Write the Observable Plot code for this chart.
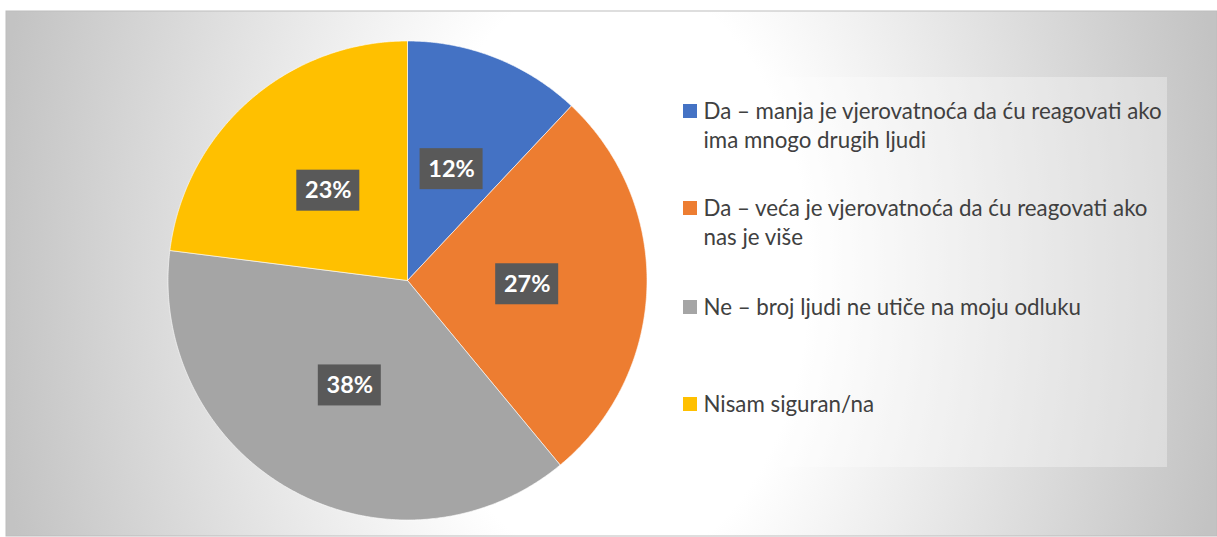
<!DOCTYPE html>
<html>
<head>
<meta charset="utf-8">
<script src="https://cdn.jsdelivr.net/npm/d3@7"></script>
<script src="https://cdn.jsdelivr.net/npm/@observablehq/plot@0.6"></script>
<style>
  html, body { margin: 0; padding: 0; background: #ffffff; }
</style>
</head>
<body>
<div id="chart"></div>
<script>
// ---- data ----
const categories = [
  "Da – manja je vjerovatnoća da ću reagovati ako ima mnogo drugih ljudi",
  "Da – veća je vjerovatnoća da ću reagovati ako nas je više",
  "Ne – broj ljudi ne utiče na moju odluku",
  "Nisam siguran/na"
];
const values = [12, 27, 38, 23];
const percentLabels = ["12%", "27%", "38%", "23%"];
const legendLines = [
  ["Da – manja je vjerovatnoća da ću reagovati ako", "ima mnogo drugih ljudi"],
  ["Da – veća je vjerovatnoća da ću reagovati ako", "nas je više"],
  ["Ne – broj ljudi ne utiče na moju odluku"],
  ["Nisam siguran/na"]
];
const colors = ["#4472C4", "#ED7D31", "#A5A5A5", "#FFC000"];

// ---- layout (pixels) ----
const W = 1217, H = 537;
const bg = {x1: 6, x2: 1217, y1: 11, y2: 536};
const pieC = {x: 407, y: 280, r: 239.5};
const labelR = 0.5;            // label position as fraction of radius
const labelBox = {w: 63, h: 41};
const legendBox = {x1: 675, x2: 1167, y1: 77, y2: 467};
const legendBaselines = [118, 215, 314, 411];
const legendLineGap = 29;
const legendFont = 22.3;
const swatch = {x: 683, size: 14};
const textX = 703;
const font = "Lato, 'Open Sans', sans-serif";

// ---- derived geometry ----
const arcs = d3.pie().sort(null).value(d => d)(values);
const slicePts = [];
arcs.forEach((a, i) => {
  slicePts.push({i, x: pieC.x, y: pieC.y});
  const n = Math.max(2, Math.ceil((a.endAngle - a.startAngle) / (Math.PI / 360)));
  for (let k = 0; k <= n; k++) {
    const t = a.startAngle + (a.endAngle - a.startAngle) * k / n;
    slicePts.push({i, x: pieC.x + pieC.r * Math.sin(t), y: pieC.y - pieC.r * Math.cos(t)});
  }
  slicePts.push({i, x: pieC.x, y: pieC.y});
});
const labels = arcs.map((a, i) => {
  const m = (a.startAngle + a.endAngle) / 2;
  return {
    text: percentLabels[i],
    x: pieC.x + pieC.r * labelR * Math.sin(m),
    y: pieC.y - pieC.r * labelR * Math.cos(m)
  };
});
const legendRows = [];
const swatches = [];
legendLines.forEach((lines, i) => {
  swatches.push({i, x1: swatch.x, x2: swatch.x + swatch.size,
    y1: legendBaselines[i] - swatch.size, y2: legendBaselines[i], cat: categories[i]});
  lines.forEach((t, j) => {
    legendRows.push({text: t, x: textX, y: legendBaselines[i] + j * legendLineGap - 0.32 * legendFont});
  });
});

const defsMark = () => {
  const defs = d3.create("svg:defs");
  defs.html(`<radialGradient id="bgGrad" gradientUnits="userSpaceOnUse" cx="611" cy="273" r="620"
      gradientTransform="translate(611 273) scale(1 1.5) translate(-611 -273)">
      <stop offset="0" stop-color="#ffffff"/>
      <stop offset="0.32" stop-color="#ffffff"/>
      <stop offset="1" stop-color="#c3c3c3"/>
    </radialGradient>`);
  return defs.node();
};

const chart = Plot.plot({
  width: W,
  height: H,
  margin: 0,
  x: {domain: [0, W], range: [0, W], axis: null},
  y: {domain: [0, H], range: [0, H], axis: null},
  color: {type: "identity"},
  style: {background: "white", fontFamily: font},
  marks: [
    defsMark,
    Plot.rect([bg], {x1: "x1", x2: "x2", y1: "y1", y2: "y2", fill: "url(#bgGrad)", stroke: "#bdbdbd", strokeWidth: 1}),
    Plot.rect([legendBox], {x1: "x1", x2: "x2", y1: "y1", y2: "y2", fill: "white", fillOpacity: 0.33}),
    Plot.line(slicePts, {x: "x", y: "y", z: "i", fill: d => colors[d.i], stroke: "white", strokeWidth: 0.6, strokeLinejoin: "round", curve: "linear"}),
    Plot.rect(labels, {x1: d => d.x - labelBox.w / 2, x2: d => d.x + labelBox.w / 2,
      y1: d => d.y - labelBox.h / 2, y2: d => d.y + labelBox.h / 2, fill: "#595959"}),
    Plot.text(labels, {x: "x", y: "y", text: "text", fill: "white", fontWeight: "bold", fontSize: 23.5, fontFamily: font}),
    Plot.rect(swatches, {x1: "x1", x2: "x2", y1: "y1", y2: "y2", fill: d => colors[d.i]}),
    Plot.text(legendRows, {x: "x", y: "y", text: "text", textAnchor: "start", fill: "#404040", fontSize: legendFont, fontFamily: font})
  ]
});
document.getElementById("chart").appendChild(chart);
</script>
</body>
</html>
